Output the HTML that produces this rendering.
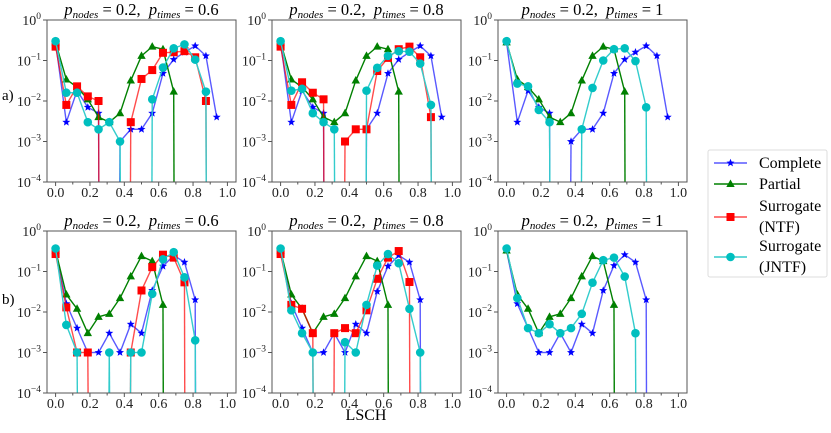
<!DOCTYPE html>
<html><head><meta charset="utf-8"><style>
body{margin:0;background:#fff;width:831px;height:428px;overflow:hidden}
svg{font-family:"Liberation Serif",serif}
</style></head><body>
<svg id="fig" width="831" height="428" viewBox="0 0 831 428"></svg>
<script>
const xs=[0,0.0625,0.125,0.1875,0.25,0.3125,0.375,0.4375,0.5,0.5625,0.625,0.6875,0.75,0.8125,0.875,0.9375];
const xTicks=[0,0.2,0.4,0.6,0.8,1.0];
const xTickLabels=["0.0","0.2","0.4","0.6","0.8","1.0"];
const yTickExps=[0,-1,-2,-3,-4];
const panelTitles=["0.6","0.8","1","0.6","0.8","1"];
// a) row
const a06Complete=[0.28,0.003,0.018,0.007,0.005,0,0.001,0.002,0.002,0.005,0.048,0.106,0.16,0.23,0.13,0.004];
const a06Partial=[0.28,0.034,0.022,0.011,0.004,0.003,0.005,0.032,0.13,0.22,0.19,0.017,0,0,0,0];
const a06NTF=[0.22,0.008,0.023,0.013,0.01,0,0,0.003,0.035,0.058,0.155,0.16,0.17,0.12,0.01,0];
const a06JNTF=[0.3,0.016,0.016,0.003,0.002,0.003,0.001,0,0,0.011,0.067,0.2,0.25,0.105,0.017,0];
const a08Complete=[0.28,0.003,0.018,0.007,0.005,0,0,0,0.002,0.005,0.048,0.106,0.16,0.23,0.13,0.004];
const a08Partial=[0.28,0.034,0.022,0.011,0.004,0.003,0.005,0.032,0.13,0.22,0.19,0.017,0,0,0,0];
const a08NTF=[0.22,0.008,0.029,0.016,0.011,0,0.001,0.002,0.002,0.055,0.116,0.19,0.22,0.12,0.004,0];
const a08JNTF=[0.3,0.018,0.02,0.005,0.003,0.002,0,0,0.018,0.066,0.13,0.17,0.165,0.084,0.008,0];
const a1Complete=[0.28,0.003,0.018,0.007,0.005,0,0.001,0.002,0.002,0.005,0.048,0.106,0.16,0.23,0.13,0.004];
const a1Partial=[0.28,0.034,0.022,0.011,0.004,0.003,0.005,0.032,0.13,0.22,0.19,0.017,0,0,0,0];
const a1JNTF=[0.3,0.027,0.023,0.006,0.003,0,0,0.002,0.021,0.1,0.19,0.2,0.097,0.007,0,0];
// b) row
const b06Complete=[0.33,0.016,0.004,0.001,0.001,0.003,0.001,0.005,0.003,0.034,0.135,0.25,0.17,0.02,0,0];
const b06Partial=[0.33,0.027,0.012,0.003,0.0076,0.009,0.022,0.076,0.24,0.18,0.015,0,0,0,0,0];
const b06NTF=[0.27,0.013,0.001,0.001,0,0,0,0.001,0.034,0.128,0.26,0.22,0.054,0,0,0];
const b06JNTF=[0.37,0.0048,0.001,0,0,0.001,0,0.001,0.001,0.028,0.2,0.3,0.072,0.002,0,0];
const b08Complete=[0.33,0.016,0.004,0.001,0.001,0.003,0.001,0.005,0.003,0.032,0.135,0.25,0.17,0.02,0,0];
const b08Partial=[0.33,0.027,0.012,0.003,0.0076,0.009,0.022,0.076,0.24,0.18,0.015,0,0,0,0,0];
const b08NTF=[0.27,0.015,0.012,0.003,0,0.003,0.004,0.003,0.011,0.066,0.22,0.32,0.055,0,0,0];
const b08JNTF=[0.37,0.011,0.003,0.001,0,0,0.0018,0.001,0.015,0.14,0.27,0.16,0.012,0.001,0,0];
const b1Complete=[0.33,0.016,0.004,0.001,0.001,0.003,0.001,0.005,0.003,0.034,0.14,0.26,0.17,0.02,0,0];
const b1Partial=[0.33,0.027,0.012,0.003,0.0076,0.009,0.022,0.076,0.24,0.18,0.015,0,0,0,0,0];
const b1JNTF=[0.37,0.022,0.004,0.003,0.005,0.003,0.004,0.009,0.053,0.19,0.22,0.075,0.003,0,0,0];

const NS="http://www.w3.org/2000/svg";
const svg=document.getElementById('fig');
function mk(tag,attrs,parent){const e=document.createElementNS(NS,tag);for(const k in attrs)e.setAttribute(k,attrs[k]);(parent||svg).appendChild(e);return e;}
const colLeft=[47,272,498], rowTop=[20,231], W=189, H=162;
const panels=[
 {r:0,c:0,series:[["complete",a06Complete],["partial",a06Partial],["ntf",a06NTF],["jntf",a06JNTF]]},
 {r:0,c:1,series:[["complete",a08Complete],["partial",a08Partial],["ntf",a08NTF],["jntf",a08JNTF]]},
 {r:0,c:2,series:[["complete",a1Complete],["partial",a1Partial],["jntf",a1JNTF]]},
 {r:1,c:0,series:[["complete",b06Complete],["partial",b06Partial],["ntf",b06NTF],["jntf",b06JNTF]]},
 {r:1,c:1,series:[["complete",b08Complete],["partial",b08Partial],["ntf",b08NTF],["jntf",b08JNTF]]},
 {r:1,c:2,series:[["complete",b1Complete],["partial",b1Partial],["jntf",b1JNTF]]}
];
const styles={complete:{c:"#0000ff",lc:"rgba(0,0,255,0.65)"},partial:{c:"#008000",lc:"#008000"},ntf:{c:"#ff0000",lc:"rgba(255,0,0,0.7)"},jntf:{c:"#00bfbf",lc:"#33cccc"}};
function marker(g,kind,x,y){
 const s=styles[kind];let m;
 if(kind==="complete"){const p=[];for(let i=0;i<10;i++){const r=i%2?1.8:4.2,a=-Math.PI/2+i*Math.PI/5;p.push((x+r*Math.cos(a)).toFixed(1)+","+(y+r*Math.sin(a)).toFixed(1));}m=mk('polygon',{points:p.join(' '),fill:s.c},g);}
 else if(kind==="partial"){m=mk('polygon',{points:`${x},${y-4.5} ${x+4.2},${y+3} ${x-4.2},${y+3}`,fill:s.c},g);}
 else if(kind==="ntf"){m=mk('rect',{x:x-4,y:y-4,width:8,height:8,fill:s.c},g);}
 else {m=mk('circle',{cx:x,cy:y,r:4.3,fill:s.c},g);}
 
 
}
panels.forEach((p,pi)=>{
 const L=colLeft[p.c],T=rowTop[p.r];
 const xS=v=>L+(v+0.05)/1.1*W;
 const yS=v=>T+(-Math.log10(v))/4*H;
 const B=T+H;
 const g=mk('g',{});
 
 
 const t=mk('text',{x:L+W/2,y:T-5,'text-anchor':'middle','font-size':16.5},g);
 
 
 t.innerHTML='<tspan font-style="italic">p</tspan><tspan font-size="11" dy="3" font-style="italic">nodes</tspan><tspan dy="-3" xml:space="preserve"> = 0.2,  </tspan><tspan font-style="italic">p</tspan><tspan font-size="11" dy="3" font-style="italic">times</tspan><tspan dy="-3" xml:space="preserve"> = '+panelTitles[pi]+'</tspan>';
 const cp=mk('clipPath',{id:'cp'+pi},g);mk('rect',{x:L,y:T,width:W,height:H},cp);
 const dg=mk('g',{'clip-path':'url(#cp'+pi+')'},g);
 p.series.forEach(([kind,vals])=>{
  const s=styles[kind];
  const sg=mk('g',{},dg);
  
  
  for(let i=0;i<vals.length-1;i++){
   const a=vals[i],b=vals[i+1];
   let seg=null;
   if(a>0&&b>0) seg=[xS(xs[i]),yS(a),xS(xs[i+1]),yS(b)];
   else if(a>0) seg=[xS(xs[i]),yS(a),xS(xs[i])+0.3,B+5];
   else if(b>0) seg=[xS(xs[i+1])-0.3,B+5,xS(xs[i+1]),yS(b)];
   if(seg){const l=mk('line',{x1:seg[0],y1:seg[1],x2:seg[2],y2:seg[3],stroke:s.lc,'stroke-width':1.4},sg);
    
    }
  }
  vals.forEach((v,i)=>{if(v>0)marker(sg,kind,xS(xs[i]),yS(v));});
 });
 const fr=mk('rect',{x:L,y:T,width:W,height:H,fill:'none',stroke:'#555','stroke-width':1},g);
 
 
 xTicks.forEach((v,i)=>{
  const x=xS(v);
  mk('line',{x1:x,y1:B,x2:x,y2:B+4,stroke:'#555'},g);
  const tl=mk('text',{x:x,y:B+15,'text-anchor':'middle','font-size':14,fill:'#222'},g);
  tl.textContent=xTickLabels[i];
  
  
 });
 for(let v=0.1;v<1;v+=0.2){mk('line',{x1:xS(v),y1:B,x2:xS(v),y2:B+2.5,stroke:'#555'},g);}
 yTickExps.forEach(e=>{
  const y=yS(Math.pow(10,e));
  mk('line',{x1:L-4,y1:y,x2:L,y2:y,stroke:'#555'},g);
  const tl=mk('text',{x:L-6,y:y+5,'text-anchor':'end','font-size':14,fill:'#222'},g);
  tl.innerHTML='10<tspan font-size="9.5" dy="-6">'+(e<0?'\u2212'+(-e):e)+'</tspan>';
  
  
 });
});
const ra=mk('text',{x:2,y:100,'font-size':15});ra.textContent='a)';


const rb=mk('text',{x:2,y:304,'font-size':15});rb.textContent='b)';


const xl=mk('text',{x:366,y:420,'text-anchor':'middle','font-size':16});xl.textContent='LSCH';


// legend
const lg=mk('g',{});


mk('rect',{x:708,y:150,width:119,height:127,rx:2,fill:'#fff',stroke:'#ddd'},lg);
const entries=[["complete",163,["Complete"]],["partial",184,["Partial"]],["ntf",217,["Surrogate","(NTF)"]],["jntf",257,["Surrogate","(JNTF)"]]];
entries.forEach(([k,y,lines])=>{
 const eg=mk('g',{},lg);
 
 
 mk('line',{x1:714,y1:y,x2:747,y2:y,stroke:styles[k].lc,'stroke-width':1.4},eg);
 marker(eg,k,730.5,y);
 const base=lines.length===1?y+5:y-6;
 lines.forEach((s,j)=>{const t=mk('text',{x:759,y:base+j*21,'font-size':16},eg);t.textContent=s;});
});
</script>
</body></html>
